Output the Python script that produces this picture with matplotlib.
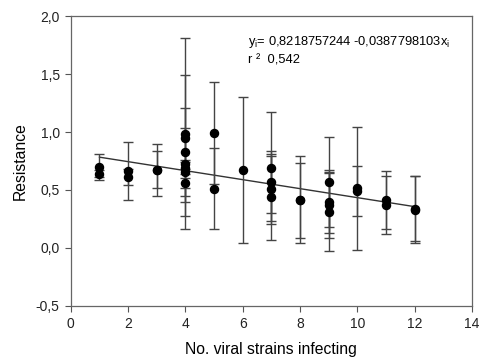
import numpy as np
import matplotlib.pyplot as plt

plt.rcParams['font.family'] = ['Liberation Sans', 'DejaVu Sans']

# number of viral strains, resistance, and error (symmetric)
strains = [1, 1,
           2, 2,
           3, 3,
           4, 4, 4, 4, 4, 4, 4,
           5, 5,
           6,
           7, 7, 7, 7,
           8, 8,
           9, 9, 9, 9,
           10, 10,
           11, 11,
           12, 12]
resistance = [0.70, 0.64,
              0.667, 0.61,
              0.675, 0.675,
              0.985, 0.945, 0.83, 0.72, 0.69, 0.655, 0.56,
              0.99, 0.51,
              0.67,
              0.69, 0.57, 0.51, 0.44,
              0.418, 0.41,
              0.569, 0.40, 0.371, 0.309,
              0.515, 0.493,
              0.415, 0.37,
              0.34, 0.33]
error = [0.11, 0.03,
         0.25, 0.07,
         0.225, 0.16,
         0.825, 0.55, 0.38, 0.04, 0.05, 0.38, 0.04,
         0.44, 0.35,
         0.63,
         0.48, 0.27, 0.28, 0.37,
         0.372, 0.32,
         0.39, 0.275, 0.287, 0.335,
         0.53, 0.217,
         0.25, 0.25,
         0.28, 0.29]

intercept = 0.8218757244
slope = -0.0387798103
r2 = 0.542

fig = plt.figure(figsize=(4.82, 3.57), dpi=100)
ax = fig.add_axes([0.147, 0.143, 0.832, 0.812])

ax.errorbar(strains, resistance, yerr=error, fmt='o', color='black',
            ecolor='#444444', elinewidth=1.0, capsize=3.3, capthick=1.0,
            markersize=5.8, zorder=3)

xl = np.array([min(strains), max(strains)])
ax.plot(xl, intercept + slope * xl, color='#333333', lw=1.0, zorder=2)

ax.set_xlim(0, 14)
ax.set_ylim(-0.5, 2.0)
ax.set_xticks(range(0, 15, 2))
ax.set_yticks([-0.5, 0.0, 0.5, 1.0, 1.5, 2.0])
ax.set_yticklabels([f'{v:.1f}'.replace('.', ',') for v in ax.get_yticks()])
ax.tick_params(direction='out', length=4, width=0.8, color='#555555',
               labelsize=10, labelcolor='#222222', pad=4)
for s in ax.spines.values():
    s.set_color('#666666')
    s.set_linewidth(0.9)

ax.set_xlabel('No. viral strains infecting', fontsize=11.3, labelpad=8)
ax.set_ylabel('Resistance', fontsize=11.3, labelpad=6)

ax.text(6.18, 1.775, 'y$_\\mathregular{i}$= 0,8218757244 -0,0387798103x$_\\mathregular{i}$',
        fontsize=9.3, va='center')
ax.text(6.18, 1.62, 'r ²  0,542', fontsize=9.3, va='center')

fig.savefig('out.png', dpi=100)
